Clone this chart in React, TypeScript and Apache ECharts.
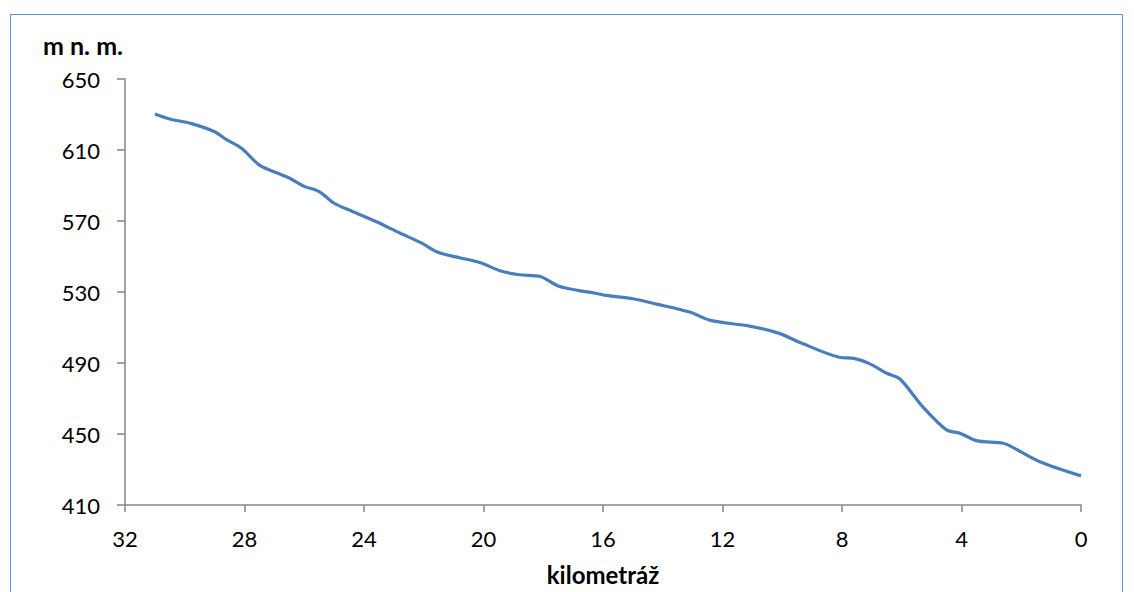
import React, { useEffect, useRef } from "react";
import * as echarts from "echarts";

const kilometers = [
  31.0, 30.5, 29.8, 29.0, 28.6, 28.1, 27.5, 26.9, 26.5, 26.0, 25.5, 25.0, 24.4,
  23.6, 22.8, 22.1, 21.5, 20.8, 20.1, 19.45, 18.8, 18.1, 17.5, 16.8, 16.4, 15.9,
  15.0, 14.2, 13.1, 12.4, 11.1, 10.1, 9.4, 8.1, 7.6, 7.1, 6.5, 6.06, 5.3, 4.5,
  4.05, 3.5, 2.6, 2.3, 1.4, 0,
];
const elevations = [
  630.3, 627.5, 625.0, 620.3, 615.8, 611.0, 601.5, 597.0, 594.2, 589.5, 586.6,
  580.0, 575.5, 569.7, 563.2, 557.8, 552.2, 549.3, 546.5, 542.0, 539.7, 538.7,
  533.4, 530.8, 529.8, 528.1, 526.2, 523.2, 518.7, 514.0, 510.8, 506.7, 501.5,
  493.2, 492.6, 489.8, 484.2, 481.0, 465.4, 452.3, 450.4, 446.3, 444.8, 442.6,
  434.5, 426.4,
];
const xTicks = { min: 0, max: 32, interval: 4 };
const yTicks = { min: 410, max: 650, interval: 40 };
const yTitle = "m n. m.";
const xTitle = "kilometráž";

export default function App() {
  const ref = useRef<HTMLDivElement>(null);
  useEffect(() => {
    if (!ref.current) return;
    const chart = echarts.init(ref.current, undefined, { renderer: "svg" });
    const font = "Lato, 'Open Sans', sans-serif";
    const axisColor = "#868686";
    chart.setOption({
      animation: false,
      backgroundColor: "#ffffff",
      grid: {
        left: 125,
        right: 53,
        top: 79,
        bottom: 87,
        containLabel: false,
        outerBoundsMode: "none",
      },
      xAxis: {
        type: "value",
        inverse: true,
        min: xTicks.min,
        max: xTicks.max,
        interval: xTicks.interval,
        position: "bottom",
        name: xTitle,
        nameLocation: "middle",
        nameGap: 57,
        nameTextStyle: { fontFamily: font, fontSize: 24, fontWeight: "bold", color: "#000" },
        axisLine: { show: true, onZero: false, lineStyle: { color: axisColor, width: 1.5 } },
        axisTick: { show: true, inside: false, length: 7, lineStyle: { color: axisColor, width: 1.5 } },
        axisLabel: { fontFamily: font, fontSize: 22, color: "#000", margin: 22 },
        splitLine: { show: false },
      },
      yAxis: {
        type: "value",
        min: yTicks.min,
        max: yTicks.max,
        interval: yTicks.interval,
        position: "left",
        axisLine: { show: true, onZero: false, lineStyle: { color: axisColor, width: 1.5 } },
        axisTick: { show: true, inside: false, length: 8, lineStyle: { color: axisColor, width: 1.5 } },
        axisLabel: { fontFamily: font, fontSize: 22, color: "#000", margin: 25 },
        splitLine: { show: false },
      },
      graphic: [
        {
          type: "rect",
          shape: { x: 10.5, y: 14.5, width: 1112, height: 620 },
          style: { fill: "none", stroke: "#5b8fd3", lineWidth: 1 },
          silent: true,
        },
        {
          type: "text",
          left: 43,
          top: 32,
          style: { text: yTitle, fontFamily: font, fontSize: 25, fontWeight: "bold", fill: "#000" },
        },
      ],
      series: [
        {
          type: "line",
          data: kilometers.map((k, i) => [k, elevations[i]]),
          smooth: 0.3,
          showSymbol: false,
          symbol: "none",
          lineStyle: { color: "#4a7ebb", width: 3.2 },
        },
      ],
    });
    return () => chart.dispose();
  }, []);
  return (
    <div
      ref={ref}
      style={{ position: "fixed", left: 0, top: 0, width: 1134, height: 592 }}
    />
  );
}
